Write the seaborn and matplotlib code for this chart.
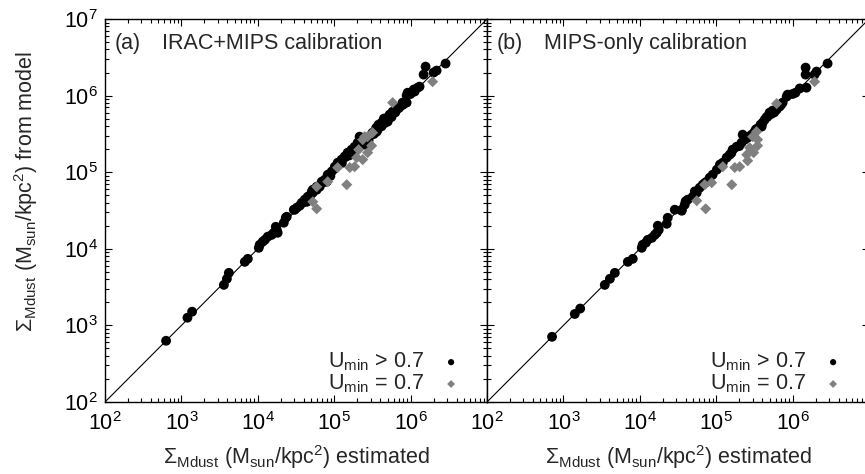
import math
import matplotlib
matplotlib.use("Agg")
import matplotlib.pyplot as plt
import seaborn as sns
from matplotlib.ticker import LogLocator, FuncFormatter, NullFormatter

# ---------------- data ----------------
# panel (a) IRAC+MIPS calibration, U_min > 0.7
a_black_x = [6.3e2, 1.2e3, 1.38e3, 3.6e3, 3.94e3, 4.18e3, 6.76e3, 7.4e3, 1.03e4, 1.06e4,
             1.16e4, 1.24e4, 1.35e4, 1.52e4, 1.62e4, 1.77e4, 1.72e4, 1.82e4, 2.19e4, 2.32e4,
             2.39e4, 2.96e4, 3.05e4, 3.24e4, 3.54e4, 3.76e4, 3.87e4, 4.11e4, 4.38e4, 4.51e4,
             4.79e4, 5.08e4, 5.24e4, 5.24e4, 5.9e4, 5.9e4, 6.46e4, 6.87e4, 7.08e4, 7.52e4,
             7.98e4, 8.22e4, 9.27e4, 1.02e5, 1.11e5, 1.25e5, 1.37e5, 1.5e5, 1.69e5, 1.85e5,
             2.03e5, 2.15e5, 2.29e5, 2.51e5, 2.74e5, 3.09e5, 3.18e5, 3.6e5, 3.71e5, 3.94e5,
             4.18e5, 4.57e5, 5.0e5, 5.31e5, 5.82e5, 6.56e5, 7.18e5, 7.85e5, 8.87e5, 9.14e5,
             1.13e6, 1.24e6, 1.31e6, 1.48e6, 1.57e6, 2.0e6, 2.19e6, 2.87e6,
             2.51e5, 2.82e5, 4.17e5, 5.01e5, 5.62e5, 3.31e5, 2.0e5, 1.58e5, 1.26e5, 1.0e5,
             8.91e4, 3.8e5, 4.57e5, 6.31e5, 7.08e5, 7.94e5, 4.47e5, 3.55e5, 2.24e5, 1.78e5,
             1.41e5, 1.0e6, 1.1e6, 8.87e5]
a_black_y = [6.3e2, 1.26e3, 1.51e3, 3.38e3, 4.06e3, 4.85e3, 6.76e3, 7.4e3, 1.03e4, 1.13e4,
             1.24e4, 1.31e4, 1.44e4, 1.52e4, 1.62e4, 1.77e4, 1.94e4, 1.62e4, 2.19e4, 2.54e4,
             2.62e4, 3.24e4, 3.24e4, 3.44e4, 3.65e4, 3.99e4, 3.99e4, 4.38e4, 4.11e4, 4.79e4,
             4.79e4, 5.56e4, 5.4e4, 5.9e4, 5.9e4, 6.46e4, 6.46e4, 7.52e4, 7.29e4, 7.98e4,
             7.52e4, 9.27e4, 1.02e5, 1.18e5, 1.33e5, 1.46e5, 1.6e5, 1.8e5, 1.97e5, 2.15e5,
             2.43e5, 2.91e5, 2.51e5, 2.66e5, 2.82e5, 3.09e5, 3.28e5, 3.38e5, 3.6e5, 3.94e5,
             4.44e5, 4.85e5, 5.15e5, 5.65e5, 6.18e5, 6.56e5, 7.18e5, 8.09e5, 1.0e6, 1.09e6,
             1.13e6, 1.27e6, 1.31e6, 1.88e6, 2.39e6, 2.0e6, 2.12e6, 2.62e6,
             2.29e5, 2.63e5, 3.98e5, 4.57e5, 5.25e5, 3.16e5, 2.0e5, 1.66e5, 1.32e5, 1.1e5,
             8.91e4, 4.17e5, 4.37e5, 6.03e5, 6.92e5, 7.59e5, 5.01e5, 3.8e5, 2.4e5, 1.91e5,
             1.58e5, 1.05e6, 1.2e6, 8.09e5]
# panel (a), U_min = 0.7
a_gray_x = [2.74e5, 2.36e5, 3.09e5, 2.74e5, 2.36e5, 1.85e5, 1.6e5, 2.09e5, 1.11e5, 8.22e4,
            5.9e4, 1.46e5, 5.24e4, 5.9e4, 5.82e5, 1.94e6, 3.18e5, 2.51e5, 1.97e5]
a_gray_y = [2.91e5, 2.66e5, 2.22e5, 1.8e5, 1.46e5, 1.18e5, 1.15e5, 1.97e5, 1.15e5, 7.52e4,
            6.46e4, 6.87e4, 4.11e4, 3.33e4, 8.09e5, 1.52e6, 3.28e5, 2.91e5, 1.55e5]

# panel (b) MIPS-only calibration, U_min > 0.7
b_black_x = [7.1e2, 1.41e3, 1.66e3, 3.48e3, 4.06e3, 4.71e3, 6.97e3, 8.09e3, 1.06e4, 1.09e4,
             1.2e4, 1.27e4, 1.44e4, 1.57e4, 1.67e4, 1.77e4, 1.72e4, 2.25e4, 2.32e4, 2.87e4,
             3.54e4, 3.54e4, 3.87e4, 4.24e4, 4.93e4, 5.56e4, 6.08e4, 6.67e4, 7.52e4, 8.22e4,
             8.99e4, 1.02e5, 1.11e5, 1.22e5, 1.37e5, 1.5e5, 1.64e5, 1.85e5, 2.15e5, 2.22e5,
             2.36e5, 2.58e5, 2.91e5, 3.18e5, 3.48e5, 3.94e5, 4.06e5, 4.31e5, 4.71e5, 5.0e5,
             5.48e5, 6.18e5, 6.76e5, 7.4e5, 8.36e5, 8.61e5, 1.09e6, 1.24e6, 1.52e6, 1.48e6,
             1.48e6, 2.06e6, 1.94e6, 2.87e6,
             3.98e4, 5.25e4, 7.08e4, 1.12e5, 1.58e5, 2.0e5, 2.75e5, 3.31e5, 3.8e5, 4.57e5,
             5.25e5, 5.75e5, 7.08e5, 1.0e6]
b_black_y = [7.1e2, 1.41e3, 1.66e3, 3.38e3, 4.06e3, 4.85e3, 6.76e3, 7.4e3, 1.03e4, 1.13e4,
             1.2e4, 1.31e4, 1.39e4, 1.52e4, 1.62e4, 1.77e4, 2.0e4, 2.12e4, 2.54e4, 3.24e4,
             3.14e4, 3.24e4, 3.76e4, 4.38e4, 4.79e4, 5.4e4, 6.27e4, 6.87e4, 7.52e4, 8.47e4,
             9.27e4, 1.08e5, 1.18e5, 1.33e5, 1.55e5, 1.69e5, 1.97e5, 2.15e5, 2.43e5, 3.09e5,
             2.66e5, 2.82e5, 3.09e5, 3.38e5, 3.71e5, 3.94e5, 4.44e5, 4.85e5, 5.31e5, 6.0e5,
             6.37e5, 6.56e5, 7.18e5, 8.09e5, 9.7e5, 1.03e6, 1.09e6, 1.24e6, 1.27e6, 2.32e6,
             1.88e6, 2.06e6, 1.88e6, 2.62e6,
             4.17e4, 5.62e4, 7.24e4, 1.26e5, 1.78e5, 2.19e5, 2.95e5, 3.63e5, 4.17e5, 5.25e5,
             5.75e5, 6.03e5, 7.59e5, 1.05e6]
# panel (b), U_min = 0.7
b_gray_x = [3.38e5, 3.0e5, 3.48e5, 3.09e5, 2.58e5, 2.51e5, 1.75e5, 2.03e5, 1.6e5, 7.29e4,
            5.56e4, 7.08e4, 8.73e4, 6.18e5, 1.94e6, 3.48e5, 2.74e5, 1.22e5]
b_gray_y = [3.38e5, 2.91e5, 2.22e5, 1.8e5, 1.41e5, 1.69e5, 1.15e5, 1.18e5, 6.87e4, 3.33e4,
            4.24e4, 6.87e4, 7.29e4, 7.85e5, 1.52e6, 2.66e5, 2.09e5, 1.18e5]

axis_limits = [1e2, 1e7]
panel_tags = ["(a)", "(b)"]
panel_titles = ["IRAC+MIPS calibration", "MIPS-only calibration"]
legend_labels = ["U$_{\\mathrm{min}}$ > 0.7", "U$_{\\mathrm{min}}$ = 0.7"]
xlabel = "\u03a3$_{\\mathrm{Mdust}}$ (M$_{\\mathrm{sun}}$/kpc$^{2}$) estimated"
ylabel = "\u03a3$_{\\mathrm{Mdust}}$ (M$_{\\mathrm{sun}}$/kpc$^{2}$) from model"

# ---------------- style ----------------
sns.set_style("ticks")
plt.rcParams['font.family'] = ['Liberation Sans', 'DejaVu Sans']
plt.rcParams['mathtext.fontset'] = 'custom'
plt.rcParams['mathtext.rm'] = 'Liberation Sans'
plt.rcParams['mathtext.it'] = 'Liberation Sans:italic'
plt.rcParams['mathtext.bf'] = 'Liberation Sans:bold'
plt.rcParams['mathtext.sf'] = 'Liberation Sans'

BLACK = "#000000"
GRAY = "#808080"
FS = 15.5

fig = plt.figure(figsize=(8.65, 4.74), dpi=100)
B, W, H = 72 / 474, 382 / 865, 383 / 474
ax1 = fig.add_axes([105 / 865, B, W, H])
ax2 = fig.add_axes([487 / 865, B, W, H])


def fmt_x(v, pos):
    if v >= 9.9e6 or v < 99:
        return ""
    return "$10^{%d}$" % round(math.log10(v))


def fmt_y(v, pos):
    if v > 1.01e7 or v < 99:
        return ""
    return "$10^{%d}$" % round(math.log10(v))


panels = [
    (ax1, a_black_x, a_black_y, a_gray_x, a_gray_y),
    (ax2, b_black_x, b_black_y, b_gray_x, b_gray_y),
]

for i, (ax, bx, by, gx, gy) in enumerate(panels):
    ax.set_xscale("log")
    ax.set_yscale("log")
    sns.lineplot(x=axis_limits, y=axis_limits, color="black", linewidth=0.8, ax=ax,
                 zorder=2, sort=False, estimator=None)
    sns.scatterplot(x=bx, y=by, color=BLACK, marker="o", s=50, edgecolor="none",
                    linewidth=0, ax=ax, zorder=3)
    sns.scatterplot(x=gx, y=gy, color=GRAY, marker="D", s=32, edgecolor="none",
                    linewidth=0, ax=ax, zorder=4)
    ax.set_xlim(axis_limits)
    ax.set_ylim(axis_limits)
    ax.xaxis.set_major_locator(LogLocator(base=10, numticks=12))
    ax.yaxis.set_major_locator(LogLocator(base=10, numticks=12))
    ax.xaxis.set_minor_locator(LogLocator(base=10, subs=range(2, 10), numticks=12))
    ax.yaxis.set_minor_locator(LogLocator(base=10, subs=range(2, 10), numticks=12))
    ax.xaxis.set_major_formatter(FuncFormatter(fmt_x))
    ax.xaxis.set_minor_formatter(NullFormatter())
    ax.yaxis.set_minor_formatter(NullFormatter())
    if i == 0:
        ax.yaxis.set_major_formatter(FuncFormatter(fmt_y))
    else:
        ax.yaxis.set_major_formatter(NullFormatter())
    ax.tick_params(which="both", direction="in", top=True, right=True,
                   width=0.8, colors="black", labelsize=FS)
    ax.tick_params(which="major", length=5.0)
    ax.tick_params(which="minor", length=2.6)
    ax.tick_params(axis="x", which="major", pad=7)
    ax.tick_params(axis="y", which="major", pad=5)
    for sp in ax.spines.values():
        sp.set_linewidth(1.0)
        sp.set_color("black")
        sp.set_visible(True)
    ax.set_xlabel(xlabel, fontsize=FS, labelpad=6)
    ax.set_ylabel("")
    ax.text(0.026, 0.937, panel_tags[i], transform=ax.transAxes, fontsize=FS,
            ha="left", va="center")
    ax.text(0.149, 0.937, panel_titles[i], transform=ax.transAxes, fontsize=FS,
            ha="left", va="center")
    # key
    ax.text(0.836, 0.104, legend_labels[0], transform=ax.transAxes, fontsize=FS,
            ha="right", va="center")
    ax.text(0.836, 0.047, legend_labels[1], transform=ax.transAxes, fontsize=FS,
            ha="right", va="center")
    ax.scatter([0.906], [0.104], transform=ax.transAxes, s=20, color=BLACK,
               marker="o", edgecolor="none", zorder=5, clip_on=False)
    ax.scatter([0.906], [0.047], transform=ax.transAxes, s=16, color=GRAY,
               marker="D", edgecolor="none", zorder=5, clip_on=False)

ax1.set_ylabel(ylabel, fontsize=FS)
ax1.yaxis.set_label_coords(-0.17, 0.55)

fig.savefig("out.png", dpi=100)
